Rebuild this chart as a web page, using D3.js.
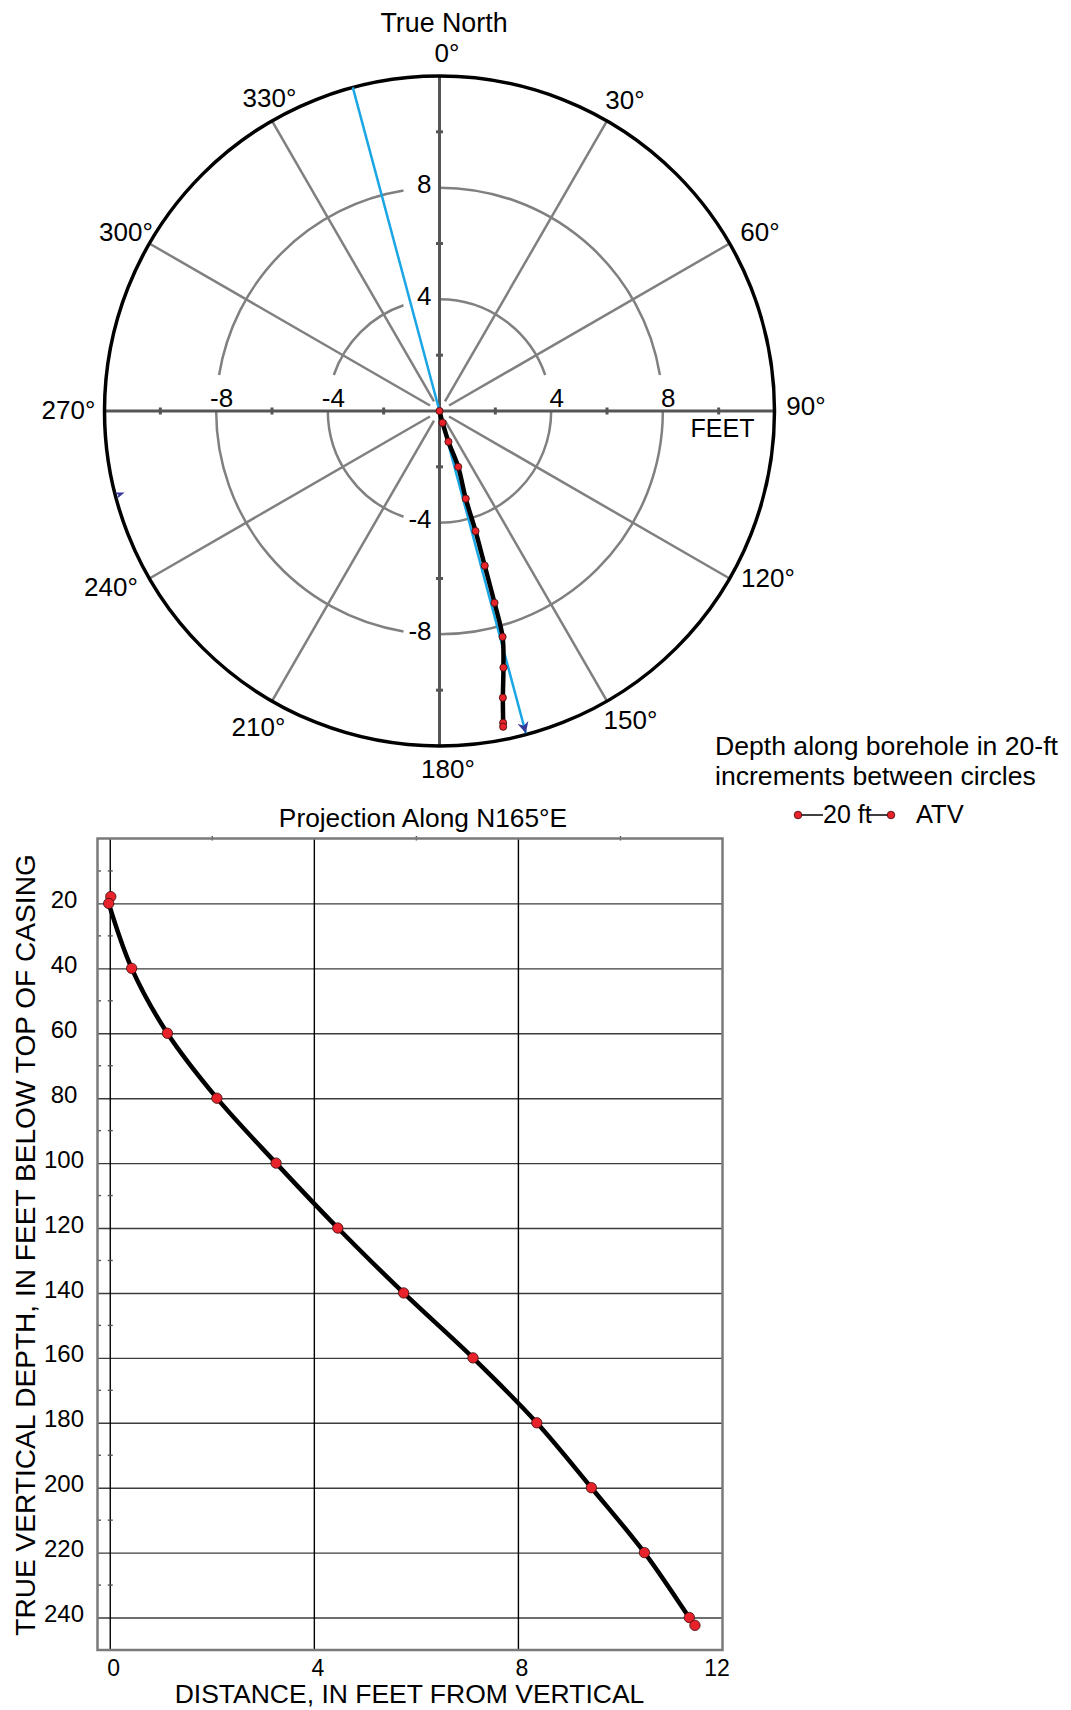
<!DOCTYPE html>
<html>
<head>
<meta charset="utf-8">
<script src="https://cdn.jsdelivr.net/npm/d3@7"></script>
<style>
	body { margin: 0; background: #fff; }
	svg { display: block; font-family: "Liberation Sans", Arial, sans-serif; }
	.spoke { stroke: #808080; stroke-width: 2.5; fill: none; }
	.ring { stroke: #808080; stroke-width: 2.5; fill: none; }
	.polarAxis { stroke: #555; stroke-width: 3; }
	.bore { stroke: #000; stroke-width: 4.5; fill: none; stroke-linejoin: round; stroke-linecap: round; }
	.station { fill: #e8222a; stroke: #3a0a0a; stroke-width: 0.8; }
	.grid line { stroke: #3c3c3c; stroke-width: 1.4; }
</style>
</head>
<body>
<div id="chart"></div>
<script>
let w = 1071
let h = 1710

// plan view: feet east / north of the top of casing, one station every 20 ft along the hole
let planEast  = [0, 0.11, 0.32, 0.67, 0.94, 1.29, 1.62, 1.97, 2.26, 2.29, 2.27, 2.28, 2.28]
let planNorth = [0, -0.42, -1.10, -2.00, -3.14, -4.30, -5.54, -6.87, -8.09, -9.19, -10.27, -11.17, -11.31]

// projection along N165E
let projBearing = 165
let tvDepth  = [17.9, 20, 40, 60, 80, 100, 120, 140, 160, 180, 200, 220, 240, 242.4]
let projDist = [0.01, -0.03, 0.42, 1.12, 2.09, 3.25, 4.46, 5.75, 7.11, 8.36, 9.43, 10.47, 11.35, 11.46]

let bearings = d3.range(0, 360, 30)
let ringValues = [4, 8]
let axisLabels = [-8, -4, 4, 8]
let depthTicks = d3.range(20, 241, 20)
let depthMinor = d3.range(10, 250, 20)
let distTicks = [0, 4, 8, 12]
let distGrid = [0, 4, 8]
let distMinor = [2, 6, 10]

let svg = d3.select("#chart")
	.append("svg")
	.attr("width", w)
	.attr("height", h)

svg.append("rect").attr("width", w).attr("height", h).attr("fill", "#fff")

// ---------- polar plan view ----------
let cx = 439.5, cy = 411
let r = d3.scaleLinear().domain([0, 12]).range([0, 335])
let rad = deg => deg * Math.PI / 180
let px = (dist, brg) => cx + r(dist) * Math.sin(rad(brg))
let py = (dist, brg) => cy - r(dist) * Math.cos(rad(brg))

let polar = svg.append("g")

// spokes every 30 degrees, axes drawn separately
bearings.filter(b => b % 90 != 0).forEach(b => {
	polar.append("line")
		.attr("class", "spoke")
		.attr("x1", cx + 11 * Math.sin(rad(b)))
		.attr("y1", cy - 11 * Math.cos(rad(b)))
		.attr("x2", px(12, b))
		.attr("y2", py(12, b))
})

// rings, broken where the labels sit
ringValues.forEach(v => {
	let rr = r(v)
	let gap = Math.asin(36 / rr) * 180 / Math.PI
	let spans = [[0, 90 - gap], [90, 180], [180 + gap, 270], [270 + gap, 360 - gap]]
	spans.forEach(s => {
		let p = d3.path()
		p.arc(cx, cy, rr, rad(s[0] - 90), rad(s[1] - 90))
		polar.append("path").attr("class", "ring").attr("d", p.toString())
	})
})

// axes
polar.append("line").attr("class", "polarAxis")
	.attr("x1", cx - r(12)).attr("x2", cx + r(12)).attr("y1", cy).attr("y2", cy)
polar.append("line").attr("class", "polarAxis")
	.attr("x1", cx).attr("x2", cx).attr("y1", cy - r(12)).attr("y2", cy + r(12))

let polarTicks = [-10, -6, -2, 2, 6, 10]
polarTicks.forEach(t => {
	polar.append("line").attr("class", "polarAxis").attr("stroke-width", 2.5)
		.attr("x1", cx + r(t)).attr("x2", cx + r(t)).attr("y1", cy - 3.5).attr("y2", cy + 3.5)
	polar.append("line").attr("class", "polarAxis").attr("stroke-width", 2.5)
		.attr("x1", cx - 3.5).attr("x2", cx + 3.5).attr("y1", cy - r(t)).attr("y2", cy - r(t))
})

// outer circle
polar.append("circle")
	.attr("cx", cx).attr("cy", cy).attr("r", r(12))
	.attr("fill", "none").attr("stroke", "#000").attr("stroke-width", 3.5)

// ring labels
axisLabels.forEach(v => {
	polar.append("text")
		.attr("x", cx + r(v) + 5.5)
		.attr("y", cy - 4)
		.attr("text-anchor", "middle")
		.attr("font-size", 26)
		.text(v)
	polar.append("text")
		.attr("x", cx - 8)
		.attr("y", cy - r(v) - 3.5)
		.attr("dy", "0.35em")
		.attr("text-anchor", "end")
		.attr("font-size", 26)
		.text(v)
})

polar.append("text")
	.attr("x", cx + r(12) - 20)
	.attr("y", cy + 26)
	.attr("text-anchor", "end")
	.attr("font-size", 25)
	.text("FEET")

// bearing labels, with small hand nudges to sit like the original
let nudge = {
	0: [7.5, 0], 30: [4.5, -1], 60: [7, 0], 90: [4.5, -5], 120: [15, -12], 150: [10, -1],
	180: [8.5, 0], 210: [0, 6], 240: [-15, -3], 270: [-9, -1], 300: [0, 0], 330: [11, -3]
}
bearings.forEach(b => {
	polar.append("text")
		.attr("x", cx + 362 * Math.sin(rad(b)) + nudge[b][0])
		.attr("y", cy - 358 * Math.cos(rad(b)) + nudge[b][1])
		.attr("dy", "0.35em")
		.attr("text-anchor", "middle")
		.attr("font-size", 26)
		.text(b + "°")
})

polar.append("text")
	.attr("x", cx + 4.5)
	.attr("y", 32)
	.attr("text-anchor", "middle")
	.attr("font-size", 26.8)
	.text("True North")

// projection direction line
let defs = svg.append("defs")
defs.append("marker")
	.attr("id", "arrow")
	.attr("viewBox", "0 0 10 10")
	.attr("refX", 10).attr("refY", 5)
	.attr("markerWidth", 4.5).attr("markerHeight", 4.5)
	.attr("markerUnits", "strokeWidth")
	.attr("orient", "auto")
	.append("path")
	.attr("d", "M0,0 L10,5 L0,10 L3,5 Z")
	.attr("fill", "#35399a")

polar.append("line")
	.attr("x1", px(12, projBearing + 180)).attr("y1", py(12, projBearing + 180))
	.attr("x2", px(11.95, projBearing)).attr("y2", py(11.95, projBearing))
	.attr("stroke", "#1aa6e4").attr("stroke-width", 2.5)
	.attr("marker-end", "url(#arrow)")

// stray arrow head on the west rim
polar.append("path")
	.attr("d", "M-10,3.5 L0,0 L-10,-3.5 L-6.5,0 Z")
	.attr("fill", "#35399a")
	.attr("transform", "translate(" + px(11.65, 255.5) + "," + py(11.65, 255.5) + ") rotate(-20)")

// borehole trace
let plan = planEast.map((e, i) => ({ e: e, n: planNorth[i] }))
let planLine = d3.line()
	.x(d => cx + r(d.e))
	.y(d => cy - r(d.n))
	.curve(d3.curveCatmullRom.alpha(0.5))

polar.append("path").datum(plan).attr("class", "bore").attr("d", planLine)
polar.selectAll(".planPt")
	.data(plan)
	.enter()
	.append("circle")
	.attr("class", "station")
	.attr("cx", d => cx + r(d.e))
	.attr("cy", d => cy - r(d.n))
	.attr("r", 3.6)

// ---------- legend ----------
let legend = svg.append("g").attr("font-size", 26.6)
legend.append("text").attr("x", 715).attr("y", 755).text("Depth along borehole in 20-ft")
legend.append("text").attr("x", 715).attr("y", 784.5).text("increments between circles")
legend.append("line").attr("x1", 798).attr("x2", 823).attr("y1", 815).attr("y2", 815)
	.attr("stroke", "#000").attr("stroke-width", 1.5)
legend.append("line").attr("x1", 868).attr("x2", 891).attr("y1", 815).attr("y2", 815)
	.attr("stroke", "#000").attr("stroke-width", 1.5)
legend.append("circle").attr("class", "station").attr("cx", 798).attr("cy", 815).attr("r", 3.8)
legend.append("circle").attr("class", "station").attr("cx", 891).attr("cy", 815).attr("r", 3.8)
legend.append("text").attr("x", 823).attr("y", 823).attr("font-size", 25).text("20 ft")
legend.append("text").attr("x", 916).attr("y", 823).attr("font-size", 25.5).text("ATV")

// ---------- projection ----------
let x = d3.scaleLinear().domain([-0.25, 12]).range([97.5, 722.5])
let y = d3.scaleLinear().domain([0, 250]).range([838.5, 1650])
let pLeft = x(-0.25), pRight = x(12), pTop = y(0), pBottom = y(250)

let yAxis = d3.axisLeft(y)
	.tickValues(depthTicks)
	.tickSize(-(pRight - pLeft))
	.tickSizeOuter(0)

let yg = svg.append("g")
	.attr("class", "grid")
	.attr("transform", "translate(" + pLeft + ",0)")
	.call(yAxis)
yg.select(".domain").remove()
yg.selectAll("text")
	.attr("x", -(pLeft - 64))
	.attr("dy", "0.17em")
	.attr("text-anchor", "middle")
	.attr("font-size", 24)
	.attr("font-family", null)
	.attr("fill", "#000")

let xAxis = d3.axisBottom(x)
	.tickValues(distTicks)
	.tickSize(0)

let xg = svg.append("g")
	.attr("transform", "translate(0," + pBottom + ")")
	.call(xAxis)
xg.select(".domain").remove()
xg.selectAll("text")
	.attr("y", 26)
	.attr("dy", 0)
	.attr("dx", d => d == 12 ? -6 : 3)
	.attr("font-size", 23)
	.attr("font-family", null)
	.attr("fill", "#000")

// vertical grid
distGrid.forEach(v => {
	svg.append("line")
		.attr("x1", x(v)).attr("x2", x(v)).attr("y1", pTop).attr("y2", pBottom)
		.attr("stroke", "#000").attr("stroke-width", 1.4)
})

// minor ticks
depthMinor.forEach(v => {
	svg.append("line").attr("x1", pLeft).attr("x2", pLeft + 3.5).attr("y1", y(v)).attr("y2", y(v))
		.attr("stroke", "#555").attr("stroke-width", 1.4)
	svg.append("line").attr("x1", x(0) - 2.5).attr("x2", x(0) + 2.5).attr("y1", y(v)).attr("y2", y(v))
		.attr("stroke", "#555").attr("stroke-width", 1.4)
})
distMinor.forEach(v => {
	svg.append("line").attr("x1", x(v)).attr("x2", x(v)).attr("y1", pTop - 2.5).attr("y2", pTop + 2)
		.attr("stroke", "#555").attr("stroke-width", 1.4)
})

// frame
svg.append("rect")
	.attr("x", pLeft).attr("y", pTop)
	.attr("width", pRight - pLeft).attr("height", pBottom - pTop)
	.attr("fill", "none").attr("stroke", "#7a7a7a").attr("stroke-width", 2.5)

let proj = tvDepth.map((d, i) => ({ depth: d, dist: projDist[i] }))
let projLine = d3.line()
	.x(d => x(d.dist))
	.y(d => y(d.depth))
	.curve(d3.curveCatmullRom.alpha(0.5))

svg.append("path").datum(proj.slice(1)).attr("class", "bore")
	.attr("stroke-width", 5).attr("d", projLine)
svg.selectAll(".projPt")
	.data(proj)
	.enter()
	.append("circle")
	.attr("class", "station")
	.attr("cx", d => x(d.dist))
	.attr("cy", d => y(d.depth))
	.attr("r", 5.2)

svg.append("text")
	.attr("x", 423).attr("y", 827)
	.attr("text-anchor", "middle")
	.attr("font-size", 26.3)
	.text("Projection Along N165°E")

svg.append("text")
	.attr("x", 409.5).attr("y", 1703)
	.attr("text-anchor", "middle")
	.attr("font-size", 26.5)
	.text("DISTANCE, IN FEET FROM VERTICAL")

svg.append("text")
	.attr("transform", "translate(35,1245) rotate(-90)")
	.attr("text-anchor", "middle")
	.attr("font-size", 28.1)
	.text("TRUE VERTICAL DEPTH, IN FEET BELOW TOP OF CASING")
</script>
</body>
</html>
